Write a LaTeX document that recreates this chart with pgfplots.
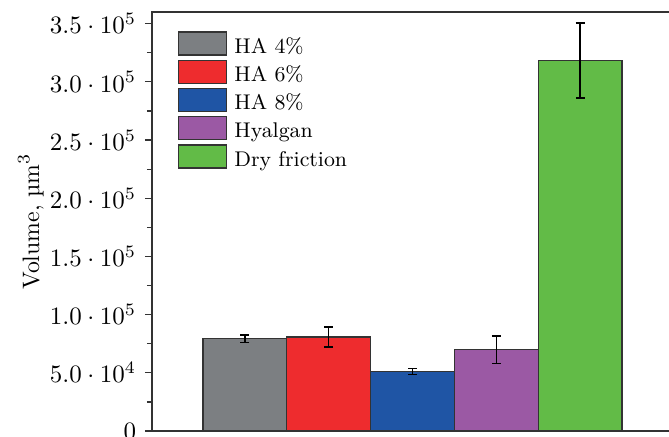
\documentclass[border=0pt]{standalone}
\usepackage{pgfplots}
\pgfplotsset{compat=1.18}
\definecolor{cgray}{RGB}{124,127,130}
\definecolor{cred}{RGB}{238,44,46}
\definecolor{cblue}{RGB}{31,85,165}
\definecolor{cpurple}{RGB}{155,89,164}
\definecolor{cgreen}{RGB}{98,187,71}
\begin{document}
\begin{tikzpicture}
\begin{axis}[
  width=208.4pt, height=167.6pt, scale only axis,
  xmin=-0.107, xmax=6.107, ymin=0, ymax=360000,
  ytick={0,50000,100000,150000,200000,250000,300000,350000},
  yticklabels={$0$,$5.0\cdot10^{4}$,$1.0\cdot10^{5}$,$1.5\cdot10^{5}$,$2.0\cdot10^{5}$,$2.5\cdot10^{5}$,$3.0\cdot10^{5}$,$3.5\cdot10^{5}$},
  minor y tick num=1,
  xtick=\empty,
  axis line style={line width=0.6pt, color=black!80},
  every tick/.style={line width=0.5pt, black!80},
  tick align=outside, tick pos=left,
  major tick length=2.8pt, minor tick length=2pt,
  ybar, bar width=1, bar shift=0pt,
  ylabel={Volume, \textmu m$^3$},
  ylabel style={at={(axis description cs:-0.191,0.5)}, anchor=south, font=\fontsize{9.5}{11}\selectfont},
  legend style={draw=none, fill=none, inner sep=0pt, at={(axis description cs:0.0494,0.9547)}, anchor=north west,
    font=\fontsize{8.5}{10}\selectfont, row sep=1.6pt, column sep=2.8pt,
    nodes={inner sep=0pt, text height=8.4pt, text depth=0.8pt}, cells={anchor=base west}},
  legend image code/.code={\draw[#1] (0pt,-0.8pt) rectangle (19.2pt,8.4pt);},
  error bars/y dir=both, error bars/y explicit,
  error bars/error bar style={line width=0.6pt, black},
  error bars/error mark options={rotate=90, mark size=1.8pt, line width=0.6pt, black},
]
\addplot[fill=cgray, draw=black!80, line width=0.5pt, bar shift=0pt] coordinates {(1,79300) +- (0,3300)};
\addplot[fill=cred, draw=black!80, line width=0.5pt, bar shift=0pt] coordinates {(2,80800) +- (0,8600)};
\addplot[fill=cblue, draw=black!80, line width=0.5pt, bar shift=0pt] coordinates {(3,51100) +- (0,2600)};
\addplot[fill=cpurple, draw=black!80, line width=0.5pt, bar shift=0pt] coordinates {(4,69800) +- (0,11800)};
\addplot[fill=cgreen, draw=black!80, line width=0.5pt, bar shift=0pt] coordinates {(5,318400) +- (0,32200)};
\legend{HA 4\%, HA 6\%, HA 8\%, Hyalgan, Dry friction}
\end{axis}
\pgfresetboundingbox
\path[use as bounding box] (-60.8pt,-2pt) rectangle (206.8pt,172.4pt);
\end{tikzpicture}
\end{document}
